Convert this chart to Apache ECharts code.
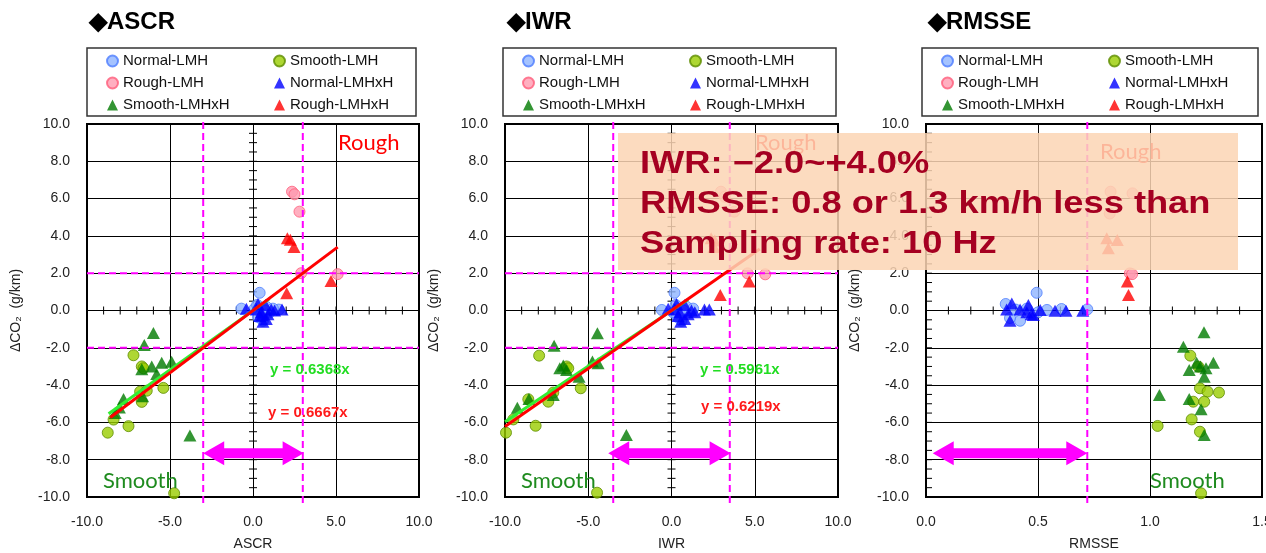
<!DOCTYPE html>
<html><head><meta charset="utf-8">
<script src="https://cdn.jsdelivr.net/npm/echarts@6/dist/echarts.min.js"></script>
<style>html,body{margin:0;padding:0;background:#fff}#c{width:1266px;height:553px}</style>
</head><body><div id="c"></div>
<script>
// ---------- data ----------
const panelTitles = ['◆ASCR', '◆IWR', '◆RMSSE'];
const xAxisNames = ['ASCR', 'IWR', 'RMSSE'];
const yAxisName = 'ΔCO₂  (g/km)';
const xMins = [-10, -10, 0];
const xMaxs = [10, 10, 1.5];
const xIntervals = [5, 5, 0.5];
const yMin = -10, yMax = 10, yInterval = 2;

const seriesNames = ['Normal-LMH', 'Smooth-LMH', 'Rough-LMH', 'Normal-LMHxH', 'Smooth-LMHxH', 'Rough-LMHxH'];

// ASCR panel
const ascrNormalLMH = [[-0.7,0.1],[0.4,0.95],[0.1,0.1],[0.5,-0.2],[0.8,0.2],[1.0,-0.1],[1.55,0.05],[0.6,-0.55],[0.3,-0.35],[1.2,0.1],[0.25,0.3],[0.7,0.0]];
const ascrSmoothLMH = [[-7.2,-2.4],[-6.7,-3.0],[-6.6,-3.1],[-6.8,-4.35],[-6.4,-4.3],[-6.7,-4.9],[-5.4,-4.15],[-8.4,-5.85],[-7.5,-6.2],[-8.75,-6.55],[-4.75,-9.8]];
const ascrRoughLMH = [[2.35,6.37],[2.5,6.23],[2.8,5.3],[2.9,2.0],[5.1,1.95]];
const ascrNormalLMHxH = [[-0.4,0.1],[0.2,0.05],[0.4,-0.3],[0.6,-0.6],[0.75,0.3],[0.9,-0.2],[1.1,0.05],[1.75,0.05],[0.5,-0.1],[0.3,0.35],[0.8,-0.45],[1.3,0.0],[0.55,-0.25]];
const ascrSmoothLMHxH = [[-6.0,-1.2],[-6.55,-1.85],[-6.7,-3.15],[-6.1,-3.0],[-5.5,-2.8],[-4.9,-2.75],[-5.8,-3.4],[-7.8,-4.75],[-8.05,-5.2],[-6.65,-4.6],[-3.8,-6.7],[-8.3,-5.5]];
const ascrRoughLMHxH = [[2.07,3.87],[2.25,3.8],[2.47,3.4],[4.7,1.58],[2.03,0.92]];

// IWR panel
const iwrNormalLMH = [[-0.58,0.03],[0.18,0.95],[0.3,0.1],[0.5,-0.2],[0.9,0.2],[1.1,-0.1],[0.6,-0.55],[0.35,-0.35],[1.3,0.1],[0.25,0.3],[0.7,0.0],[0.1,-0.1]];
const iwrSmoothLMH = [[-7.95,-2.42],[-6.3,-3.0],[-6.2,-3.1],[-7.1,-4.4],[-7.4,-4.89],[-5.45,-4.17],[-9.5,-5.84],[-8.16,-6.18],[-9.94,-6.55],[-4.47,-9.77],[-8.6,-4.76]];
const iwrRoughLMH = [[2.97,6.37],[3.2,6.1],[3.77,5.3],[4.57,1.99],[5.63,1.94]];
const iwrNormalLMHxH = [[-0.2,0.1],[0.2,0.05],[0.4,-0.3],[0.55,-0.6],[0.8,0.3],[1.0,-0.2],[1.2,0.0],[1.98,0.05],[2.27,0.05],[0.5,-0.1],[0.3,0.35],[0.8,-0.45],[1.4,-0.1]];
const iwrSmoothLMHxH = [[-4.45,-1.22],[-7.05,-1.89],[-6.71,-3.1],[-6.3,-3.19],[-5.55,-3.55],[-4.75,-2.74],[-4.41,-2.83],[-9.26,-5.21],[-8.56,-4.75],[-7.1,-4.53],[-2.71,-6.68],[-6.5,-2.95]];
const iwrRoughLMHxH = [[2.38,3.87],[2.6,3.75],[2.55,3.4],[4.67,1.55],[2.93,0.83]];

// RMSSE panel
const rmsseNormalLMH = [[0.356,0.35],[0.494,0.95],[0.42,-0.55],[0.54,0.03],[0.605,0.08],[0.72,0.06],[0.375,-0.4],[0.45,0.1],[0.5,-0.1],[0.4,0.05]];
const rmsseSmoothLMH = [[1.18,-2.42],[1.216,-3.01],[1.223,-4.17],[1.257,-4.35],[1.308,-4.4],[1.193,-4.89],[1.242,-4.89],[1.186,-5.84],[1.223,-6.5],[1.034,-6.19],[1.228,-9.8]];
const rmsseRoughLMH = [[0.824,6.37],[0.922,6.28],[0.82,5.2],[0.91,1.99],[0.92,1.95]];
const rmsseNormalLMHxH = [[0.383,0.38],[0.375,-0.55],[0.42,0.05],[0.457,0.3],[0.47,-0.2],[0.51,0.03],[0.576,-0.02],[0.625,-0.02],[0.70,-0.02],[0.36,0.05],[0.479,-0.24],[0.45,-0.1]];
const rmsseSmoothLMHxH = [[1.241,-1.17],[1.149,-1.94],[1.208,-2.8],[1.175,-3.19],[1.25,-3.1],[1.283,-2.8],[1.242,-3.55],[1.042,-4.53],[1.175,-4.75],[1.228,-5.3],[1.242,-6.68],[1.225,-3.0]];
const rmsseRoughLMHxH = [[0.807,3.87],[0.854,3.78],[0.814,3.34],[0.899,1.55],[0.904,0.83]];

// regression lines y = k x (green, red) and their x extents
const fitSlopesGreen = [0.6368, 0.5961];
const fitSlopesRed = [0.6667, 0.6219];
const fitXRangeGreen = [[-8.7, 1.0], [-10, 1.0]];
const fitXRangeRed = [[-8.6, 5.1], [-10, 5.3]];
const fitLabelsGreen = ['y = 0.6368x', 'y = 0.5961x'];
const fitLabelsRed = ['y = 0.6667x', 'y = 0.6219x'];

// threshold lines and ranges
const vThresholds = [[-3.0, 3.0], [-3.5, 3.5], [0.72]];
const hThresholds = [[-2, 2], [-2, 2], []];
const arrowRanges = [[-3.0, 3.05, -7.65], [-3.8, 3.55, -7.65], [0.03, 0.72, -7.65]];

const noteLines = ['IWR: −2.0~+4.0%', 'RMSSE: 0.8 or 1.3 km/h less than', 'Sampling rate: 10 Hz'];

// ---------- layout / style ----------
const FONT = '"Liberation Sans", Arial, sans-serif';
const gridLefts = [87, 505, 926];
const gridWidths = [332, 333, 336];
const gridTop = 124, gridHeight = 373;
const legendBoxes = [[87, 48, 329, 68], [503, 48, 333, 68], [922, 48, 336, 68]];
const panelData = [
  [ascrNormalLMH, ascrSmoothLMH, ascrRoughLMH, ascrNormalLMHxH, ascrSmoothLMHxH, ascrRoughLMHxH],
  [iwrNormalLMH, iwrSmoothLMH, iwrRoughLMH, iwrNormalLMHxH, iwrSmoothLMHxH, iwrRoughLMHxH],
  [rmsseNormalLMH, rmsseSmoothLMH, rmsseRoughLMH, rmsseNormalLMHxH, rmsseSmoothLMHxH, rmsseRoughLMHxH]
];
const styles = {
  'Normal-LMH':   {symbol:'circle', size:11, itemStyle:{color:'#8FB4FF', borderColor:'#4D7DFF', borderWidth:1}},
  'Smooth-LMH':   {symbol:'circle', size:11, itemStyle:{color:'#9ACD00', borderColor:'#5E8C00', borderWidth:1}},
  'Rough-LMH':    {symbol:'circle', size:11, itemStyle:{color:'#FF9BB0', borderColor:'#FF5C7A', borderWidth:1}},
  'Normal-LMHxH': {symbol:'triangle', size:[13,12], itemStyle:{color:'#0000FF'}},
  'Smooth-LMHxH': {symbol:'triangle', size:[13,12], itemStyle:{color:'#007A00'}},
  'Rough-LMHxH':  {symbol:'triangle', size:[13,12], itemStyle:{color:'#FF0000'}}
};
const drawOrder = [1, 0, 2, 4, 3, 5];

const grids = [], xAxes = [], yAxes = [], series = [], graphic = [], legends = [], titles = [];

for (let p = 0; p < 3; p++) {
  grids.push({left:gridLefts[p], top:gridTop, width:gridWidths[p], height:gridHeight,
    show:true, borderColor:'#000', borderWidth:2, backgroundColor:'rgba(0,0,0,0)', outerBoundsMode:'none'});
  xAxes.push({gridIndex:p, type:'value', min:xMins[p], max:xMaxs[p], interval:xIntervals[p],
    name:xAxisNames[p], nameLocation:'middle', nameGap:40,
    nameTextStyle:{fontSize:14, color:'#222', fontFamily:FONT},
    axisLine:{show:false, onZero:false}, axisTick:{show:false},
    axisLabel:{formatter:v => v.toFixed(1), fontSize:14, color:'#222', margin:18, fontFamily:FONT},
    splitLine:{show:true, lineStyle:{color:'#000', width:1}}});
  yAxes.push({gridIndex:p, type:'value', min:yMin, max:yMax, interval:yInterval,
    name:yAxisName, nameLocation:'middle', nameGap:64, nameRotate:90,
    nameTextStyle:{fontSize:14, color:'#222', fontFamily:FONT},
    axisLine:{show:false, onZero:false}, axisTick:{show:false},
    axisLabel:{formatter:v => v.toFixed(1), fontSize:14, color:'#222', margin:17, fontFamily:FONT},
    splitLine:{show:true, lineStyle:{color:'#000', width:1}}});

  // scatter series
  drawOrder.forEach(gi => {
    const nm = seriesNames[gi], st = styles[nm];
    series.push({type:'scatter', name:nm, xAxisIndex:p, yAxisIndex:p, data:panelData[p][gi],
      symbol:st.symbol, symbolSize:st.size, itemStyle:st.itemStyle, z:3});
  });

  // minor ticks on the zero lines
  const xt = [], yt = [];
  if (p < 2) {
    for (let k = -10; k <= 10; k++) xt.push([k, 0]);
    for (let k = -20; k <= 20; k++) yt.push([0, k / 2]);
  } else {
    for (let k = 1; k <= 15; k++) xt.push([k / 10, 0]);
    for (let k = -20; k <= 20; k++) yt.push([0, k / 2]);
  }
  series.push({type:'custom', xAxisIndex:p, yAxisIndex:p, data:xt, silent:true, z:2,
    renderItem:(params, api) => {
      const c = api.coord([api.value(0), api.value(1)]);
      return {type:'line', shape:{x1:c[0], y1:c[1]-4, x2:c[0], y2:c[1]+4}, style:{stroke:'#000', lineWidth:1}};
    }});
  const inwardOnly = (p === 2);
  series.push({type:'custom', xAxisIndex:p, yAxisIndex:p, data:yt, silent:true, z:2,
    renderItem:(params, api) => {
      const c = api.coord([api.value(0), api.value(1)]);
      const x1 = inwardOnly ? c[0] : c[0]-4, x2 = inwardOnly ? c[0]+6 : c[0]+4;
      return {type:'line', shape:{x1:x1, y1:c[1], x2:x2, y2:c[1]}, style:{stroke:'#000', lineWidth:1}};
    }});

  // dashed threshold lines
  const xmin = xMins[p], xmax = xMaxs[p];
  series.push({type:'custom', xAxisIndex:p, yAxisIndex:p, silent:true, z:4,
    data:vThresholds[p].map(v => [v, 0]),
    renderItem:(params, api) => {
      const a = api.coord([api.value(0), yMax]), b = api.coord([api.value(0), yMin]);
      return {type:'line', shape:{x1:a[0], y1:a[1]-2, x2:b[0], y2:b[1]+6},
        style:{stroke:'#FF00FF', lineWidth:2, lineDash:[7,4]}};
    }});
  if (hThresholds[p].length) {
    series.push({type:'custom', xAxisIndex:p, yAxisIndex:p, silent:true, z:4,
      data:hThresholds[p].map(v => [0, v]),
      renderItem:(params, api) => {
        const a = api.coord([xmin, api.value(1)]), b = api.coord([xmax, api.value(1)]);
        return {type:'line', shape:{x1:a[0], y1:a[1], x2:b[0], y2:b[1]},
          style:{stroke:'#FF00FF', lineWidth:2, lineDash:[7,4]}};
      }});
  }

  // double arrow
  series.push({type:'custom', xAxisIndex:p, yAxisIndex:p, silent:true, z:5,
    data:[arrowRanges[p]],
    renderItem:(params, api) => {
      const L = api.coord([api.value(0), api.value(2)]), R = api.coord([api.value(1), api.value(2)]);
      const y = L[1], hl = 21, hh = 12, sh = 5;
      return {type:'polygon', shape:{points:[
        [L[0], y], [L[0]+hl, y-hh], [L[0]+hl, y-sh], [R[0]-hl, y-sh], [R[0]-hl, y-hh], [R[0], y],
        [R[0]-hl, y+hh], [R[0]-hl, y+sh], [L[0]+hl, y+sh], [L[0]+hl, y+hh]]},
        style:{fill:'#FF00FF'}};
    }});

  // regression lines
  if (p < 2) {
    const g = fitXRangeGreen[p], r = fitXRangeRed[p];
    series.push({type:'line', xAxisIndex:p, yAxisIndex:p, silent:true, symbol:'none', z:6,
      data:[[g[0], fitSlopesGreen[p]*g[0]], [g[1], fitSlopesGreen[p]*g[1]]],
      lineStyle:{color:'#33EE33', width:3}});
    series.push({type:'line', xAxisIndex:p, yAxisIndex:p, silent:true, symbol:'none', z:7,
      data:[[r[0], fitSlopesRed[p]*r[0]], [r[1], fitSlopesRed[p]*r[1]]],
      lineStyle:{color:'#FF0000', width:3}});
  }

  // titles
  titles.push({text:panelTitles[p], left:gridLefts[p]-3, top:5,
    textStyle:{fontSize:24, fontWeight:'bold', color:'#000', fontFamily:FONT}});

  // legend box + legends
  const lb = legendBoxes[p];
  graphic.push({type:'rect', shape:{x:lb[0], y:lb[1], width:lb[2], height:lb[3]},
    style:{fill:'#fff', stroke:'#333', lineWidth:1.5}, z:0});
  const legCommon = {orient:'vertical', top:lb[1]+5, padding:0, itemWidth:11, itemHeight:11, itemGap:6,
    textStyle:{fontSize:15, color:'#111', fontFamily:FONT, lineHeight:16}, selectedMode:false};
  legends.push(Object.assign({left:lb[0]+19, data:['Normal-LMH', 'Rough-LMH', 'Smooth-LMHxH']}, legCommon));
  legends.push(Object.assign({left:lb[0]+186, data:['Smooth-LMH', 'Normal-LMHxH', 'Rough-LMHxH']}, legCommon));
}

// annotation texts
const annot = (x, y, text, size, color, family, weight, z) => ({type:'text', x:x, y:y, z:z || 50,
  style:{text:text, fontSize:size, fill:color, fontFamily:family, fontWeight:weight || 'normal', verticalAlign:'middle'}});
graphic.push(annot(338, 143, 'Rough', 22, '#FF0000', 'Lato, "Open Sans", sans-serif'));
graphic.push(annot(103, 481, 'Smooth', 22, '#1E8B1E', 'Lato, "Open Sans", sans-serif'));
graphic.push(annot(755, 143, 'Rough', 22, '#FF0000', 'Lato, "Open Sans", sans-serif'));
graphic.push(annot(521, 481, 'Smooth', 22, '#1E8B1E', 'Lato, "Open Sans", sans-serif'));
graphic.push(annot(1100, 152, 'Rough', 22, '#FF0000', 'Lato, "Open Sans", sans-serif'));
graphic.push(annot(1150, 481, 'Smooth', 22, '#1E8B1E', 'Lato, "Open Sans", sans-serif'));
graphic.push(annot(270, 370, fitLabelsGreen[0], 15, '#22DD22', FONT, 'bold'));
graphic.push(annot(268, 413, fitLabelsRed[0], 15, '#FF1A1A', FONT, 'bold'));
graphic.push(annot(700, 370, fitLabelsGreen[1], 15, '#22DD22', FONT, 'bold'));
graphic.push(annot(701, 407, fitLabelsRed[1], 15, '#FF1A1A', FONT, 'bold'));

// overlay note
graphic.push({type:'rect', shape:{x:618, y:133, width:620, height:137}, style:{fill:'rgba(252,213,180,0.85)'}, z:100});
noteLines.forEach((t, i) => {
  graphic.push({type:'text', x:640, y:164 + i*40, scaleX:1.17, z:101,
    style:{text:t, fontSize:31, fontWeight:'bold', fill:'#A50021', fontFamily:FONT, verticalAlign:'middle'}});
});

const chart = echarts.init(document.getElementById('c'), null, {renderer:'canvas'});
chart.setOption({
  animation:false,
  backgroundColor:'#fff',
  textStyle:{fontFamily:FONT},
  title:titles, legend:legends, grid:grids, xAxis:xAxes, yAxis:yAxes, series:series, graphic:graphic
});
</script></body></html>
